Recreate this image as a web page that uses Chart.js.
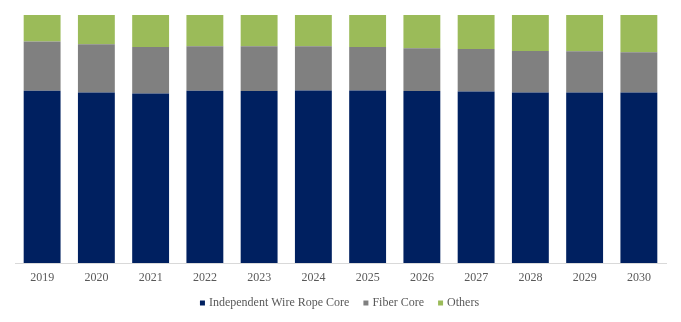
<!DOCTYPE html>
<html>
<head>
<meta charset="utf-8">
<script src="https://cdn.jsdelivr.net/npm/chart.js@4/dist/chart.umd.min.js"></script>
<style>
  html, body { margin: 0; padding: 0; background: #fff; }
  #wrap { width: 681px; height: 322px; }
</style>
</head>
<body>
<div id="wrap"><canvas id="grafico"></canvas></div>
<script>
// data (share in %)
var years = ['2019', '2020', '2021', '2022', '2023', '2024', '2025', '2026', '2027', '2028', '2029', '2030'];
var iwrc = [69.5, 68.7, 68.3, 69.5, 69.4, 69.6, 69.6, 69.4, 69.2, 68.8, 68.7, 68.7];
var fiberCore = [19.8, 19.5, 18.8, 17.9, 18.0, 17.8, 17.5, 17.2, 17.1, 16.7, 16.7, 16.3];
var others = [10.7, 11.8, 12.9, 12.6, 12.6, 12.6, 12.9, 13.4, 13.7, 14.5, 14.6, 15.0];

var ctx = document.getElementById('grafico').getContext('2d');
new Chart(ctx, {
    type: 'bar',
    data: {
        labels: years,
        datasets: [
            { label: 'Independent Wire Rope Core', data: iwrc, backgroundColor: '#002060' },
            { label: 'Fiber Core', data: fiberCore, backgroundColor: '#808080' },
            { label: 'Others', data: others, backgroundColor: '#9BBB59' }
        ]
    },
    options: {
        responsive: true,
        maintainAspectRatio: false,
        animation: false,
        layout: { padding: { top: 15, left: 15, right: 15, bottom: 3 } },
        datasets: { bar: { categoryPercentage: 1, barPercentage: 0.68 } },
        plugins: {
            tooltip: { enabled: false },
            legend: {
                position: 'bottom',
                labels: {
                    font: { family: 'Liberation Serif', size: 12 },
                    color: '#595959',
                    usePointStyle: true,
                    pointStyle: 'rect',
                    boxWidth: 1,
                    boxHeight: 5,
                    padding: 16
                }
            }
        },
        scales: {
            x: {
                stacked: true,
                grid: { display: false, drawTicks: false },
                border: { color: '#d9d9d9', width: 1 },
                ticks: {
                    font: { family: 'Liberation Serif', size: 12 },
                    color: '#595959',
                    padding: 8
                },
                // keep the axis band as tall as in the picture
                afterFit: function (axis) { axis.height = 18; }
            },
            y: {
                stacked: true,
                display: false,
                min: 0,
                max: 100
            }
        }
    }
});
</script>
</body>
</html>
